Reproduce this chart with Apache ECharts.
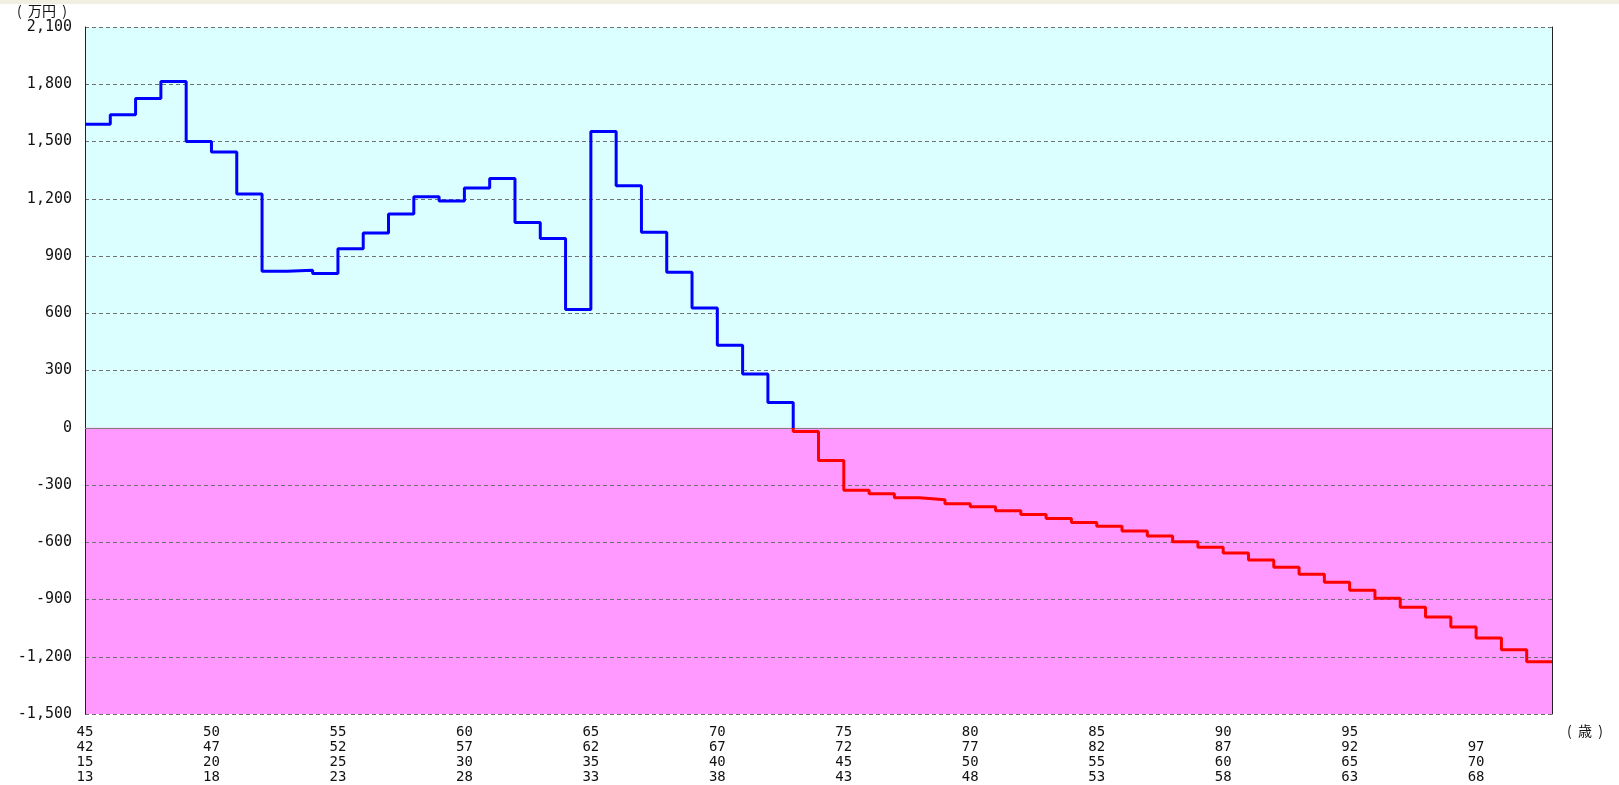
<!DOCTYPE html>
<html><head><meta charset="utf-8">
<script src="https://cdn.jsdelivr.net/npm/echarts@6/dist/echarts.min.js"></script>
<style>html,body{margin:0;padding:0;background:#fff}#c{width:1619px;height:785px}</style>
</head><body><div id="c"></div>
<script>
// Ages (first row) for each one-year step
const ages = [45,46,47,48,49,50,51,52,53,54,55,56,57,58,59,60,61,62,63,64,65,66,67,68,69,70,71,72,73,74,
  75,76,77,78,79,80,81,82,83,84,85,86,87,88,89,90,91,92,93,94,95,96,97,98,99,100,101,102];
// Balance (万円) for each year
const balance = [1590,1640,1725,1815,1500,1445,1225,820,825,808,938,1020,1120,1210,1188,1256,1306,1075,992,620,
  1552,1268,1024,815,627,432,282,132,-19,-171,-328,-346,-367,-377,-398,-414,-435,-455,-475,-497,
  -516,-541,-567,-598,-626,-656,-693,-731,-768,-809,-851,-893,-940,-992,-1044,-1102,-1163,-1226];
// Tick positions and the four rows of tick labels
const tickAges = [45,50,55,60,65,70,75,80,85,90,95,100];
const row1Labels = ['45','50','55','60','65','70','75','80','85','90','95',''];
const row2Labels = ['42','47','52','57','62','67','72','77','82','87','92','97'];
const row3Labels = ['15','20','25','30','35','40','45','50','55','60','65','70'];
const row4Labels = ['13','18','23','28','33','38','43','48','53','58','63','68'];
const yMin = -1500, yMax = 2100, yStep = 300;

const endAge = ages[ages.length - 1] + 1;
const lineData = ages.map((a, i) => [a, balance[i]]);
lineData.push([endAge, balance[balance.length - 1]]);

const mono = '"DejaVu Sans Mono", monospace';
const chart = echarts.init(document.getElementById('c'), null, {renderer: 'canvas'});
chart.setOption({
  animation: false,
  backgroundColor: '#ffffff',
  grid: {left: 85, right: 67, top: 27, bottom: 71, containLabel: false},
  xAxis: {
    type: 'value', min: 45, max: endAge, interval: 5,
    axisLine: {show: false}, axisTick: {show: false}, splitLine: {show: false},
    axisLabel: {
      margin: 11, fontFamily: mono, fontSize: 14, color: '#111', lineHeight: 15,
      showMaxLabel: false,
      formatter: function (v) {
        const i = tickAges.indexOf(v);
        if (i < 0) return '';
        return [row1Labels[i] || ' ', row2Labels[i], row3Labels[i], row4Labels[i]].join('\n');
      }
    }
  },
  yAxis: [{
    type: 'value', min: yMin, max: yMax, interval: yStep,
    axisLine: {show: true, lineStyle: {color: '#222', width: 1}},
    axisTick: {show: false},
    splitLine: {show: true, lineStyle: {type: [4, 3], color: '#707070', width: 1}},
    axisLabel: {
      margin: 13, fontFamily: mono, fontSize: 15, color: '#111',
      formatter: function (v) { return v.toLocaleString('en-US'); }
    }
  }, {
    type: 'value', min: yMin, max: yMax, interval: yStep, position: 'right',
    axisLine: {show: true, lineStyle: {color: '#222', width: 1}},
    axisTick: {show: false}, axisLabel: {show: false}, splitLine: {show: false}
  }],
  visualMap: {
    show: false, type: 'piecewise', dimension: 1, seriesIndex: 0,
    pieces: [{gte: yMin, lt: 0, color: '#ff0000'}, {gte: 0, lte: yMax, color: '#0000ff'}]
  },
  series: [{
    type: 'line', step: 'end', data: lineData, symbol: 'none',
    lineStyle: {width: 3},
    markArea: {
      silent: true, z: -1,
      data: [
        [{yAxis: 0, itemStyle: {color: '#dbffff'}}, {yAxis: yMax}],
        [{yAxis: yMin, itemStyle: {color: '#ff99ff'}}, {yAxis: 0}]
      ]
    },
    markLine: {
      silent: true, symbol: 'none', z: 1, label: {show: false},
      lineStyle: {type: 'solid', color: '#808080', width: 1},
      data: [{yAxis: 0}]
    }
  }],
  graphic: [
    {type: 'rect', left: 0, top: 0, shape: {width: 1619, height: 4}, style: {fill: '#efefe2'}, silent: true},
    {type: 'text', left: 17, top: 4, style: {text: '(  万円  )', font: '14px "Noto Sans CJK JP"', fill: '#111'}},
    {type: 'text', left: 1567, top: 724, style: {text: '(  歳  )', font: '14px "Noto Sans CJK JP"', fill: '#111'}}
  ]
});
</script>
</body></html>
